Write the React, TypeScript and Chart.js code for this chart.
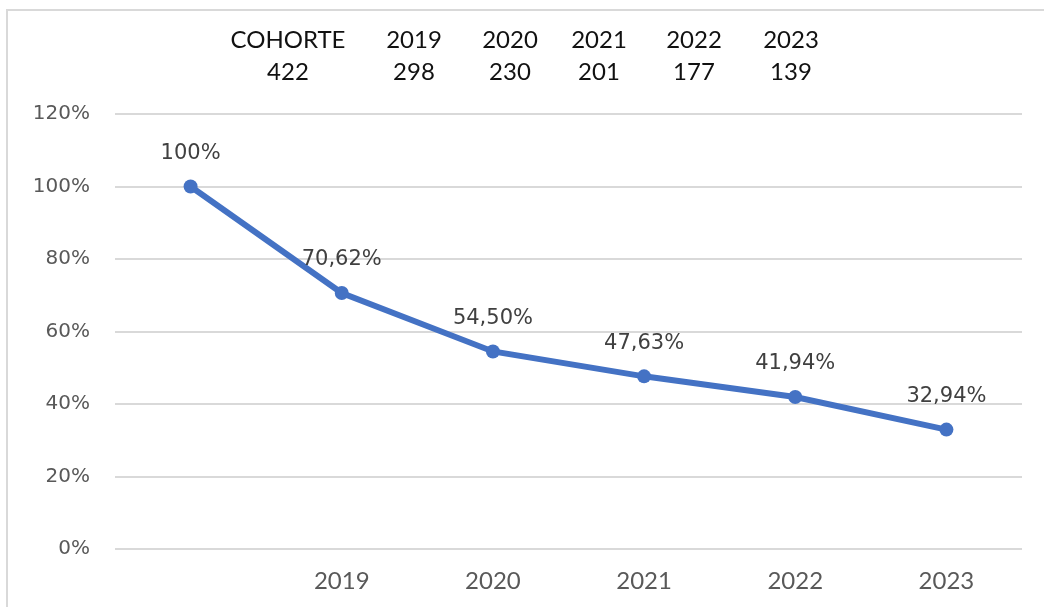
import React, { useEffect, useRef } from "react";
import { Chart, registerables } from "chart.js";

Chart.register(...registerables);

const categories = ["", "2019", "2020", "2021", "2022", "2023"];
const retentionPct = [100, 70.62, 54.5, 47.63, 41.94, 32.94];
const headerLabels = ["COHORTE", "2019", "2020", "2021", "2022", "2023"];
const headerCounts = ["422", "298", "230", "201", "177", "139"];
const headerCenters = [288, 414, 510, 599, 694, 791];
const yTicks = [0, 20, 40, 60, 80, 100, 120];

const fmtPct = (v: number) =>
  Number.isInteger(v) ? `${v}%` : `${v.toFixed(2).replace(".", ",")}%`;

const framePlugin = {
  id: "framePlugin",
  beforeDraw(chart: any) {
    const ctx = chart.ctx;
    ctx.save();
    ctx.fillStyle = "#ffffff";
    ctx.fillRect(0, 0, chart.width, chart.height);
    ctx.strokeStyle = "#d9d9d9";
    ctx.lineWidth = 2;
    ctx.strokeRect(7, 10, chart.width + 20, chart.height + 20);
    ctx.restore();
  },
};

const headerPlugin = {
  id: "headerPlugin",
  afterDraw(chart: any) {
    const ctx = chart.ctx;
    ctx.save();
    ctx.fillStyle = "#111111";
    ctx.font = "24px Lato, 'Open Sans', sans-serif";
    ctx.textAlign = "center";
    ctx.textBaseline = "middle";
    headerLabels.forEach((t, i) => ctx.fillText(t, headerCenters[i], 40));
    headerCounts.forEach((t, i) => ctx.fillText(t, headerCenters[i], 72));
    ctx.restore();
  },
};

const dataLabelPlugin = {
  id: "dataLabelPlugin",
  afterDatasetsDraw(chart: any) {
    const ctx = chart.ctx;
    const meta = chart.getDatasetMeta(0);
    ctx.save();
    ctx.fillStyle = "#404040";
    ctx.font = "21px 'DejaVu Sans', sans-serif";
    ctx.textAlign = "center";
    ctx.textBaseline = "middle";
    meta.data.forEach((pt: any, i: number) => {
      ctx.fillText(fmtPct(retentionPct[i]), pt.x, pt.y - 33);
    });
    ctx.restore();
  },
};

export default function App() {
  const ref = useRef<HTMLCanvasElement | null>(null);
  useEffect(() => {
    if (!ref.current) return;
    const chart = new Chart(ref.current, {
      type: "line",
      data: {
        labels: categories,
        datasets: [
          {
            data: retentionPct,
            borderColor: "#4472C4",
            backgroundColor: "#4472C4",
            borderWidth: 6,
            pointRadius: 7,
            pointBackgroundColor: "#4472C4",
            pointBorderWidth: 0,
            tension: 0,
          },
        ],
      },
      options: {
        animation: false,
        responsive: false,
        maintainAspectRatio: false,
        layout: { padding: { top: 114, right: 22, left: 0, bottom: 0 } },
        plugins: {
          legend: { display: false },
          tooltip: { enabled: false },
          title: { display: false },
        },
        scales: {
          x: {
            offset: true,
            grid: { display: false, drawTicks: false },
            border: { display: false },
            ticks: {
              color: "#595959",
              font: { family: "Lato, 'Open Sans', sans-serif", size: 24 },
              padding: 18,
              maxRotation: 0,
            },
            afterFit: (s: any) => {
              s.height = 58;
            },
          },
          y: {
            min: 0,
            max: 120,
            afterBuildTicks: (s: any) => {
              s.ticks = yTicks.map((v) => ({ value: v }));
            },
            grid: { color: "#d9d9d9", lineWidth: 2, drawTicks: false },
            border: { display: false },
            ticks: {
              color: "#595959",
              font: { family: "'DejaVu Sans', sans-serif", size: 20 },
              padding: 25,
              callback: (v: any) => `${v}%`,
            },
            afterFit: (s: any) => {
              s.width = 115;
            },
          },
        },
      },
      plugins: [framePlugin, headerPlugin, dataLabelPlugin],
    });
    return () => chart.destroy();
  }, []);
  return (
    <div style={{ position: "fixed", left: 0, top: 0, width: 1044, height: 607, background: "#fff" }}>
      <canvas ref={ref} width={1044} height={607} style={{ display: "block" }} />
    </div>
  );
}
